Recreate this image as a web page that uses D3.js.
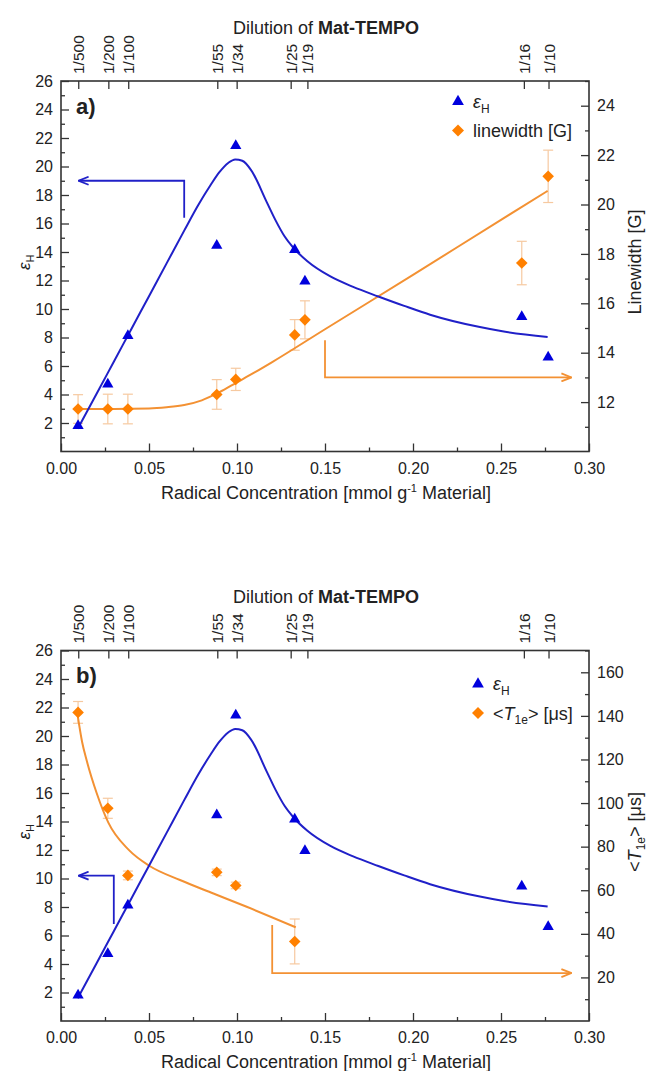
<!DOCTYPE html>
<html><head><meta charset="utf-8">
<script src="https://cdn.jsdelivr.net/npm/d3@7"></script>
<style>
body{margin:0;background:#fff}
svg{display:block}
text{font-family:"Liberation Sans",Arial,Helvetica,sans-serif;fill:#222}
</style>
</head><body>
<svg id="chart" width="649" height="1071"></svg>
<script>
// ---------- data ----------
const concentration = [0.0097, 0.0266, 0.038, 0.0885, 0.0993, 0.1328, 0.1386, 0.2618, 0.2768];
const dilutionPos = [0.0098, 0.0269, 0.0382, 0.0888, 0.0998, 0.1305, 0.1400, 0.2630, 0.2770];
const dilutionLabels = ["1/500","1/200","1/100","1/55","1/34","1/25","1/19","1/16","1/10"];
const epsH = [1.8, 4.72, 8.12, 14.45, 21.45, 14.15, 11.95, 9.45, 6.62];
const linewidth = [11.72, 11.72, 11.72, 12.31, 12.92, 14.72, 15.33, 17.63, 21.14];
const linewidthErr = [0.58, 0.6, 0.6, 0.6, 0.45, 0.62, 0.77, 0.88, 1.06];
const t1e = [141.6, 97.6, 66.8, 68.2, 62.2, 36.5];
const t1eErr = [5, 4.6, 2, 1.5, 1.5, 10.3];

// fitted curves (sampled off the figure)
const epsFitX = [0.0095,0.02,0.03,0.04,0.05,0.06,0.07,0.078,0.085,0.09,0.095,0.099,0.103,0.108,0.1169,0.122,0.127,0.132,0.14,0.1528,0.166,0.1803,0.195,0.2097,0.238,0.25,0.2765];
const epsFitY = [1.6,4.0,6.3,8.6,10.9,13.2,15.5,17.3,18.7,19.6,20.25,20.5,20.4,19.75,17.5,16.2,15.1,14.3,13.35,12.3,11.55,10.88,10.22,9.6,8.73,8.45,8.03];
const lwFitX = [0.0095,0.03,0.05,0.06,0.07,0.08,0.09,0.1,0.11,0.12,0.15,0.2,0.25,0.2765];
const lwFitY = [11.72,11.72,11.74,11.79,11.88,12.07,12.4,12.8,13.2,13.62,14.95,17.15,19.38,20.55];
const t1eFitX = [0.0095,0.012,0.0146,0.0203,0.0269,0.0385,0.0506,0.0676,0.0866,0.1055,0.1334];
const t1eFitY = [140,128,119.5,104.5,91,78.5,71,64.7,58.5,52.4,43];

// axis annotation arrows [x, y]
const arrowBlueA = [[0.07,16.4],[0.07,19],[0.01,19]];
const arrowOrangeA = [[0.15,14.5],[0.15,13],[0.29,13]];
const arrowBlueB = [[0.03,6.8],[0.03,10.2],[0.01,10.2]];
const arrowOrangeB = [[0.12,44],[0.12,22],[0.29,22]];

const xMajor = [0,0.05,0.1,0.15,0.2,0.25,0.3];
const xMinor = [0.025,0.075,0.125,0.175,0.225,0.275];
const leftMajor = [2,4,6,8,10,12,14,16,18,20,22,24,26];
const leftMinor = [1,3,5,7,9,11,13,15,17,19,21,23,25];
const rightMajorA = [12,14,16,18,20,22,24];
const rightMinorA = [11,13,15,17,19,21,23,25];
const rightMajorB = [20,40,60,80,100,120,140,160];
const rightMinorB = [10,30,50,70,90,110,130,150,170];

// ---------- drawing ----------
const BLUE = "#0000dd", BLUE_LINE = "#2020c8";
const ORANGE = "#ff8000", ORANGE_LINE = "#f39133", ERR = "#f6c9a0";
const AX = "#333";
const svg = d3.select("#chart");

const defs = svg.append("defs");
[["arrB", BLUE_LINE], ["arrO", ORANGE_LINE]].forEach(([id, c]) => {
  defs.append("marker").attr("id", id).attr("viewBox", "0 0 12 10")
    .attr("refX", 11).attr("refY", 5).attr("markerWidth", 12).attr("markerHeight", 10)
    .attr("markerUnits", "userSpaceOnUse").attr("orient", "auto")
    .append("path").attr("d", "M1,1 L11,5 L1,9").attr("fill", "none")
    .attr("stroke", c).attr("stroke-width", 1.8);
});

function styleAxis(sel) {
  sel.select(".domain").remove();
  sel.selectAll(".tick line").attr("stroke", AX).attr("stroke-width", 1.3);
  sel.selectAll("text").attr("font-size", 16).attr("fill", "#222")
     .attr("font-family", '"Liberation Sans", Arial, sans-serif');
}

function diamond(r) { return `M0,${-r}L${r},0L0,${r}L${-r},0Z`; }

function panel(cfg) {
  const left = 61, right = 589, top = cfg.top, bottom = cfg.top + 370.5;
  const x = d3.scaleLinear().domain([0, 0.3]).range([left, right]);
  const yL = d3.scaleLinear().domain([0, 26]).range([bottom, top]);
  const yR = d3.scaleLinear().domain(cfg.rightDomain).range([bottom, top]);
  const g = svg.append("g");

  // bottom axis
  g.append("g").attr("transform", `translate(0,${bottom})`)
    .call(d3.axisBottom(x).tickValues(xMajor).tickSize(-8).tickPadding(11).tickFormat(d3.format(".2f")))
    .call(styleAxis);
  g.append("g").attr("transform", `translate(0,${bottom})`)
    .call(d3.axisBottom(x).tickValues(xMinor).tickSize(-4).tickFormat(""))
    .call(styleAxis);
  // left axis
  g.append("g").attr("transform", `translate(${left},0)`)
    .call(d3.axisLeft(yL).tickValues(leftMajor).tickSize(-8).tickPadding(8))
    .call(styleAxis);
  g.append("g").attr("transform", `translate(${left},0)`)
    .call(d3.axisLeft(yL).tickValues(leftMinor).tickSize(-4).tickFormat(""))
    .call(styleAxis);
  // right axis
  g.append("g").attr("transform", `translate(${right},0)`)
    .call(d3.axisRight(yR).tickValues(cfg.rightMajor).tickSize(-8).tickPadding(8))
    .call(styleAxis);
  g.append("g").attr("transform", `translate(${right},0)`)
    .call(d3.axisRight(yR).tickValues(cfg.rightMinor).tickSize(-4).tickFormat(""))
    .call(styleAxis);
  // top axis (dilutions)
  const ta = g.append("g").attr("transform", `translate(0,${top})`)
    .call(d3.axisTop(x).tickValues(dilutionPos).tickSize(-8).tickFormat((d, i) => dilutionLabels[i]))
    .call(styleAxis);
  ta.selectAll("text").attr("transform", "rotate(-90)").attr("x", 7).attr("y", 0)
    .attr("dy", "0.36em").attr("text-anchor", "start").attr("font-size", 15.5);

  // frame
  g.append("rect").attr("x", left).attr("y", top).attr("width", right - left).attr("height", bottom - top)
    .attr("fill", "none").attr("stroke", AX).attr("stroke-width", 1.6);

  // titles
  const t = g.append("text").attr("x", 326).attr("y", top - 47.5).attr("text-anchor", "middle").attr("font-size", 18);
  t.append("tspan").text("Dilution of ");
  t.append("tspan").attr("font-weight", "bold").text("Mat-TEMPO");

  const xl = g.append("text").attr("x", 326).attr("y", bottom + 47).attr("text-anchor", "middle").attr("font-size", 18);
  xl.append("tspan").text("Radical Concentration [mmol g");
  xl.append("tspan").attr("font-size", 11).attr("dy", -7).text("-1");
  xl.append("tspan").attr("dy", 7).text(" Material]");

  const yl = g.append("text").attr("transform", `translate(30,${(top + bottom) / 2 - 4}) rotate(-90)`)
    .attr("text-anchor", "middle").attr("font-size", 17);
  yl.append("tspan").attr("font-style", "italic").text("ε");
  yl.append("tspan").attr("font-size", 11).attr("dy", 4).text("H");

  const yr = g.append("text").attr("transform", `translate(${cfg.rightLabelX},${cfg.rightLabelY}) rotate(-90)`)
    .attr("text-anchor", "middle").attr("font-size", 18);
  cfg.rightLabel(yr);

  g.append("text").attr("x", 76).attr("y", top + 32.5).attr("font-size", 22).attr("font-weight", "bold").text(cfg.tag);

  // legend
  const lg = g.append("g").attr("transform", `translate(${cfg.legendX},${cfg.legendY})`);
  lg.append("path").attr("d", d3.symbol(d3.symbolTriangle, 60)()).attr("fill", BLUE);
  const l1 = lg.append("text").attr("x", 15).attr("y", 6).attr("font-size", 18);
  l1.append("tspan").attr("font-style", "italic").text("ε");
  l1.append("tspan").attr("font-size", 12).attr("dy", 5).text("H");
  lg.append("path").attr("transform", "translate(0,29)").attr("d", diamond(6)).attr("fill", ORANGE);
  const l2 = lg.append("text").attr("x", 15).attr("y", 35.5).attr("font-size", 18);
  cfg.legend2(l2);

  // orange series (right axis)
  const od = cfg.orange;
  const eb = g.append("g").attr("stroke", ERR).attr("stroke-width", 1.2);
  od.vals.forEach((v, i) => {
    const cx = x(concentration[i]);
    const y1 = yR(v - od.err[i]), y2 = yR(v + od.err[i]);
    eb.append("line").attr("x1", cx).attr("x2", cx).attr("y1", y1).attr("y2", y2);
    eb.append("line").attr("x1", cx - 5).attr("x2", cx + 5).attr("y1", y1).attr("y2", y1);
    eb.append("line").attr("x1", cx - 5).attr("x2", cx + 5).attr("y1", y2).attr("y2", y2);
  });
  const fitO = od.fitX.map((d, i) => [d, od.fitY[i]]);
  g.append("path").datum(fitO).attr("fill", "none").attr("stroke", ORANGE_LINE).attr("stroke-width", 2)
    .attr("d", d3.line().x(d => x(d[0])).y(d => yR(d[1])).curve(d3.curveMonotoneX));

  // blue fit
  const fitB = epsFitX.map((d, i) => [d, epsFitY[i]]);
  g.append("path").datum(fitB).attr("fill", "none").attr("stroke", BLUE_LINE).attr("stroke-width", 2)
    .attr("d", d3.line().x(d => x(d[0])).y(d => yL(d[1])).curve(d3.curveMonotoneX));

  // arrows
  g.append("path").datum(cfg.arrowB).attr("fill", "none").attr("stroke", BLUE_LINE).attr("stroke-width", 1.8)
    .attr("marker-end", "url(#arrB)").attr("d", d3.line().x(d => x(d[0])).y(d => yL(d[1])));
  g.append("path").datum(cfg.arrowO).attr("fill", "none").attr("stroke", ORANGE_LINE).attr("stroke-width", 1.8)
    .attr("marker-end", "url(#arrO)").attr("d", d3.line().x(d => x(d[0])).y(d => yR(d[1])));

  // orange markers
  g.append("g").selectAll("path").data(od.vals).join("path")
    .attr("transform", (v, i) => `translate(${x(concentration[i])},${yR(v)})`)
    .attr("d", diamond(5.8)).attr("fill", ORANGE);
  // blue markers
  g.append("g").selectAll("path").data(epsH).join("path")
    .attr("transform", (v, i) => `translate(${x(concentration[i])},${yL(v)})`)
    .attr("d", d3.symbol(d3.symbolTriangle, 55)()).attr("fill", BLUE);
}

const t1eLabel = s => {
  s.append("tspan").text("<");
  s.append("tspan").attr("font-style", "italic").text("T");
  s.append("tspan").attr("font-size", 12).attr("dy", 4).text("1e");
  s.append("tspan").attr("dy", -4).text("> [μs]");
};

panel({
  top: 81, tag: "a)", rightDomain: [10, 25], rightMajor: rightMajorA, rightMinor: rightMinorA,
  rightLabelX: 641, rightLabelY: 262,
  rightLabel: s => s.text("Linewidth [G]"),
  legendX: 458, legendY: 101.5,
  legend2: s => s.text("linewidth [G]"),
  orange: { vals: linewidth, err: linewidthErr, fitX: lwFitX, fitY: lwFitY },
  arrowB: arrowBlueA, arrowO: arrowOrangeA
});
panel({
  top: 650.5, tag: "b)", rightDomain: [0, 170], rightMajor: rightMajorB, rightMinor: rightMinorB,
  rightLabelX: 641, rightLabelY: 832,
  rightLabel: t1eLabel,
  legendX: 478, legendY: 684,
  legend2: t1eLabel,
  orange: { vals: t1e, err: t1eErr, fitX: t1eFitX, fitY: t1eFitY },
  arrowB: arrowBlueB, arrowO: arrowOrangeB
});
</script>
</body></html>
